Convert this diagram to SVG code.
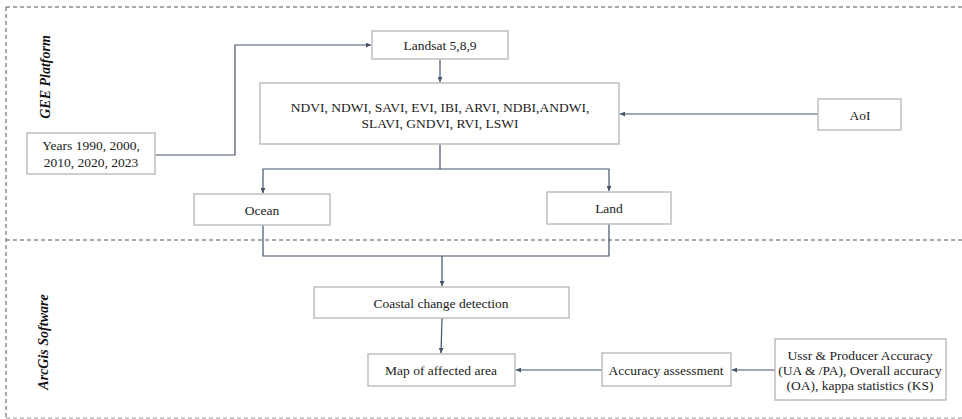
<svg xmlns="http://www.w3.org/2000/svg" width="962" height="419" viewBox="0 0 962 419">
<defs>
<marker id="arr" viewBox="0 0 6 6" refX="6" refY="3" markerWidth="5" markerHeight="5" orient="auto" markerUnits="userSpaceOnUse">
<path d="M0,0 L6,3 L0,6 Z" fill="#44546a"/>
</marker>
</defs>
<style>
.box{fill:#fff;stroke:#bfbfbf;stroke-width:1.5}
.t{font-family:"Liberation Serif","Times New Roman",serif;font-size:13.5px;fill:#222;text-anchor:middle}
.lab{font-family:"Liberation Serif","Times New Roman",serif;font-size:14px;font-weight:bold;font-style:italic;fill:#111;text-anchor:middle}
.c{fill:none;stroke:#44546a;stroke-width:1.2}
.dash{fill:none;stroke:#555;stroke-width:1;stroke-dasharray:4,3}
.dashl{fill:none;stroke:#999;stroke-width:1;stroke-dasharray:4,3}
</style>
<rect width="962" height="419" fill="#fff"/>
<g id="frame">
<line class="dash" x1="6" y1="7" x2="962" y2="7"/>
<line class="dash" x1="6" y1="7" x2="6" y2="418"/>
<line class="dash" x1="6" y1="240" x2="962" y2="240"/>
<line class="dashl" x1="6" y1="418" x2="962" y2="418"/>
<text class="lab" transform="translate(50,77) rotate(-90)">GEE Platform</text>
<text class="lab" transform="translate(48,342) rotate(-90)">ArcGis Software</text>
</g>
<g id="connectors">
<polyline class="c" points="155,155 235,155 235,45 371,45" marker-end="url(#arr)"/>
<line class="c" x1="440" y1="59" x2="440" y2="82" marker-end="url(#arr)"/>
<line class="c" x1="818" y1="114" x2="620" y2="114" marker-end="url(#arr)"/>
<polyline class="c" points="440,144 440,169 263,169 263,193" marker-end="url(#arr)"/>
<polyline class="c" points="440,169 609,169 609,191" marker-end="url(#arr)"/>
<polyline class="c" points="263,225 263,256 609,256 609,224"/>
<line class="c" x1="442" y1="256" x2="442" y2="286" marker-end="url(#arr)"/>
<line class="c" x1="442" y1="318" x2="441" y2="353" marker-end="url(#arr)"/>
<line class="c" x1="602" y1="370" x2="516" y2="370" marker-end="url(#arr)"/>
<line class="c" x1="775" y1="370" x2="732" y2="370" marker-end="url(#arr)"/>
</g>
<g id="years">
<rect class="box" x="27" y="133" width="128" height="41"/>
<text class="t" x="91" y="150">Years  1990, 2000,</text>
<text class="t" x="91" y="167">2010, 2020, 2023</text>
</g>
<g id="landsat">
<rect class="box" x="372" y="31" width="136" height="28"/>
<text class="t" x="440" y="50">Landsat 5,8,9</text>
</g>
<g id="indices">
<rect class="box" x="260" y="83" width="359" height="61"/>
<text class="t" x="440" y="112">NDVI, NDWI, SAVI, EVI, IBI, ARVI, NDBI,ANDWI,</text>
<text class="t" x="440" y="128">SLAVI, GNDVI, RVI, LSWI</text>
</g>
<g id="aoi">
<rect class="box" x="818" y="99" width="83" height="31"/>
<text class="t" x="860" y="120">AoI</text>
</g>
<g id="ocean">
<rect class="box" x="194" y="194" width="136" height="31"/>
<text class="t" x="262" y="215">Ocean</text>
</g>
<g id="land">
<rect class="box" x="547" y="192" width="124" height="32"/>
<text class="t" x="609" y="213">Land</text>
</g>
<g id="coastal">
<rect class="box" x="314" y="287" width="255" height="31"/>
<text class="t" x="441" y="308">Coastal change detection</text>
</g>
<g id="map">
<rect class="box" x="368" y="354" width="147" height="32"/>
<text class="t" x="441" y="375">Map of affected area</text>
</g>
<g id="accuracy">
<rect class="box" x="602" y="353" width="129" height="33"/>
<text class="t" x="666" y="375">Accuracy assessment</text>
</g>
<g id="metrics">
<rect class="box" x="775" y="339" width="171" height="61"/>
<text class="t" x="860" y="360">Ussr &amp; Producer Accuracy</text>
<text class="t" x="860" y="375">(UA &amp; /PA), Overall accuracy</text>
<text class="t" x="860" y="390">(OA), kappa statistics (KS)</text>
</g>
</svg>
